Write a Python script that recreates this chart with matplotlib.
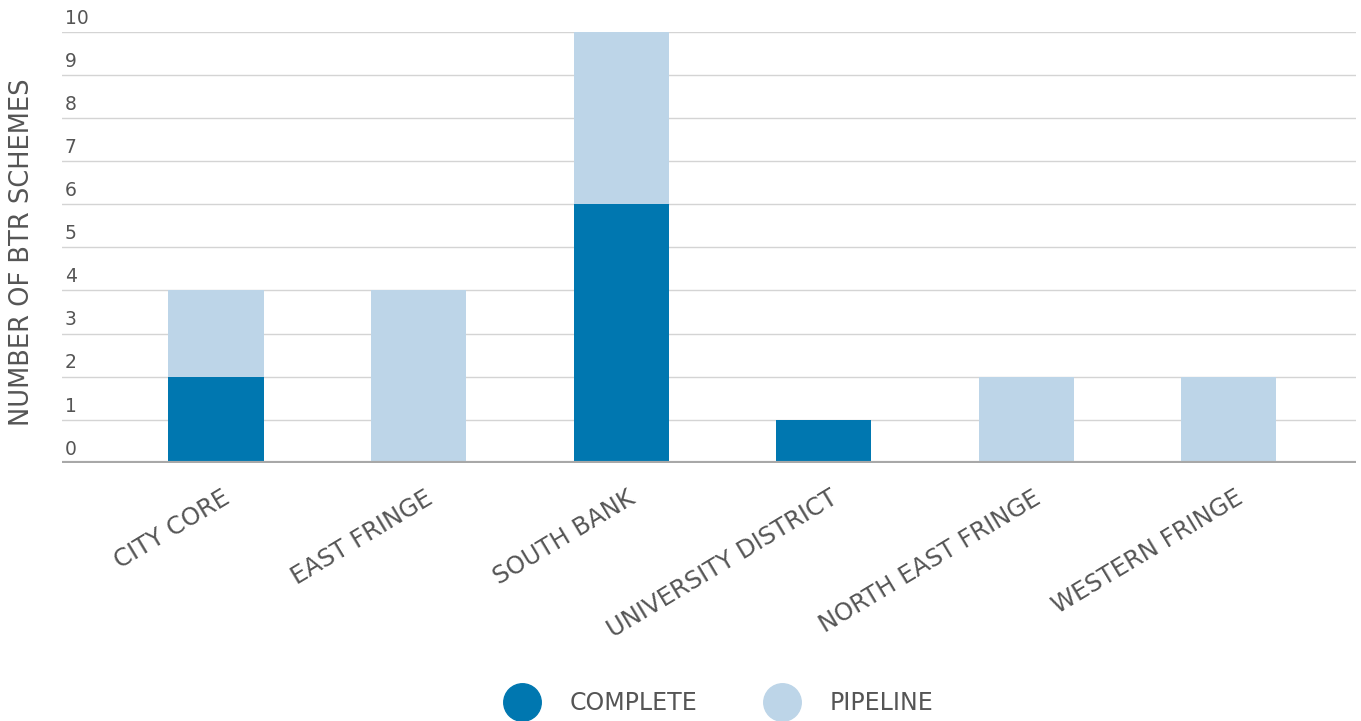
import matplotlib
matplotlib.use("Agg")
import matplotlib.pyplot as plt
import matplotlib.transforms as mtransforms
from matplotlib.lines import Line2D
import numpy as np

# BTR schemes by area
areas = ["CITY CORE", "EAST FRINGE", "SOUTH BANK", "UNIVERSITY DISTRICT",
         "NORTH EAST FRINGE", "WESTERN FRINGE"]
complete = [2, 0, 6, 1, 0, 0]
pipeline = [2, 4, 4, 0, 2, 2]
y_ticks = [0, 1, 2, 3, 4, 5, 6, 7, 8, 9, 10]

dark_blue = "#0077b0"
light_blue = "#bdd5e8"
text_col = "#555555"

plt.rcParams['font.family'] = ['DejaVu Sans']

fig = plt.figure(figsize=(13.61, 7.21), dpi=100)
ax = fig.add_axes([0.0456, 0.358, 0.951, 0.598])

x = np.arange(len(areas))
ax.bar(x, complete, width=0.47, color=dark_blue, zorder=3)
ax.bar(x, pipeline, width=0.47, bottom=complete, color=light_blue, zorder=3)

ax.set_xlim(-0.76, 5.63)
ax.set_ylim(0, 10)

for v in y_ticks[1:]:
    ax.axhline(v, color="#d4d4d4", lw=1, zorder=1)
ax.axhline(0, color="#a8a8a8", lw=3, zorder=4)

# y labels sit just above each gridline, inside the axes
for v in y_ticks:
    ax.annotate(str(v), xy=(0, v), xycoords=ax.get_yaxis_transform(),
                xytext=(2, 3), textcoords="offset points",
                ha="left", va="bottom", fontsize=13.5, color=text_col)

ax.set_yticks([])
ax.set_xticks(x)
ax.set_xticklabels(areas, rotation=31, ha="right", va="center",
                   rotation_mode="anchor", fontsize=17.5, color=text_col)
ax.tick_params(axis="x", length=0, pad=24)
offset = mtransforms.ScaledTranslation(12 / 100, 0, fig.dpi_scale_trans)
for lbl in ax.get_xticklabels():
    lbl.set_transform(lbl.get_transform() + offset)

for s in ax.spines.values():
    s.set_visible(False)

fig.text(0.016, 0.65, "NUMBER OF BTR SCHEMES", rotation=90,
         ha="center", va="center", fontsize=18.5, color=text_col,
         transform=fig.transFigure)

handles = [Line2D([], [], marker="o", ls="", markersize=27, color=dark_blue),
           Line2D([], [], marker="o", ls="", markersize=27, color=light_blue)]
fig.legend(handles, ["COMPLETE", "PIPELINE"], loc="center",
           bbox_to_anchor=(0.526, 0.025), ncol=2, frameon=False,
           fontsize=17, labelcolor=text_col, columnspacing=2.6,
           handletextpad=1.0)

fig.savefig("out.png", dpi=100)
